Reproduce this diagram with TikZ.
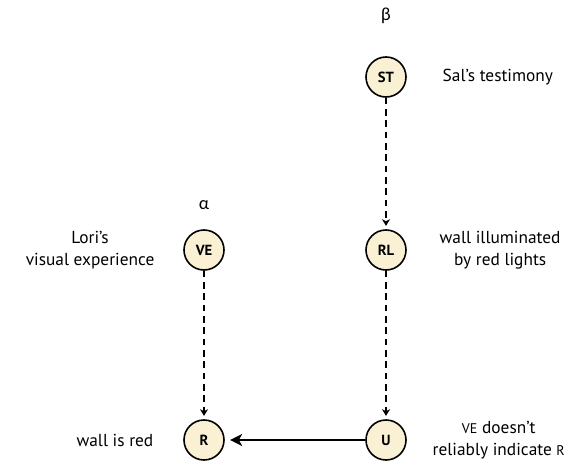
\documentclass[tikz,border=0pt]{standalone}
\usepackage{fontspec}
\setmainfont{PT Sans}
\newfontfamily\greekfont{Lato}
\usetikzlibrary{arrows.meta}

\definecolor{varfill}{RGB}{250,240,212}
% fake small caps
\newcommand{\smcap}[1]{{\fontsize{10.5}{11}\selectfont #1}}

\begin{document}
\begin{tikzpicture}[x=0.75pt, y=-0.75pt,
    var/.style={circle, draw, line width=1.2pt, fill=varfill, minimum size=30pt,
        inner sep=0pt, font=\fontsize{11}{12}\selectfont\bfseries},
    lbl/.style={align=center, font=\fontsize{13}{16.5}\selectfont},
    dep/.style={dashed, dash pattern=on 5pt off 3.5pt, line width=0.8pt,
        -{Stealth[length=5pt, width=6pt, inset=1.5pt]}, shorten >=2.5pt},
    cause/.style={line width=1.7pt, -{Stealth[length=9pt, width=9pt, inset=2.5pt]}, shorten >=4pt}]

    \useasboundingbox (0,0) rectangle (586,464);

    % variables
    \node[var] (st) at (386,77) {ST};
    \node[var] (rl) at (386,250) {RL};
    \node[var] (ve) at (204,250) {VE};
    \node[var] (r)  at (204,440) {R};
    \node[var] (u)  at (386,440) {U};

    % agents
    \node[lbl] (beta)  at (386,16)  {\greekfont β};
    \node[lbl] (alpha) at (204,205) {\greekfont α};

    % descriptions
    \node[lbl, anchor=west] (stlbl) at (438,77)  {Sal’s testimony};
    \node[lbl, anchor=west] (rllbl) at (435,250) {wall illuminated\\by red lights};
    \node[lbl, anchor=east] (velbl) at (159,250) {Lori’s\\visual experience};
    \node[lbl, anchor=east] (rlbl)  at (158,440) {wall is red};
    \node[lbl, anchor=west] (ulbl)  at (428,440) {\smcap{VE} doesn’t\\reliably indicate \smcap{R}};

    % edges
    \draw[dep] (st) -- (rl);
    \draw[dep] (rl) -- (u);
    \draw[dep] (ve) -- (r);
    \draw[cause] (u) -- (r);

\end{tikzpicture}
\end{document}
